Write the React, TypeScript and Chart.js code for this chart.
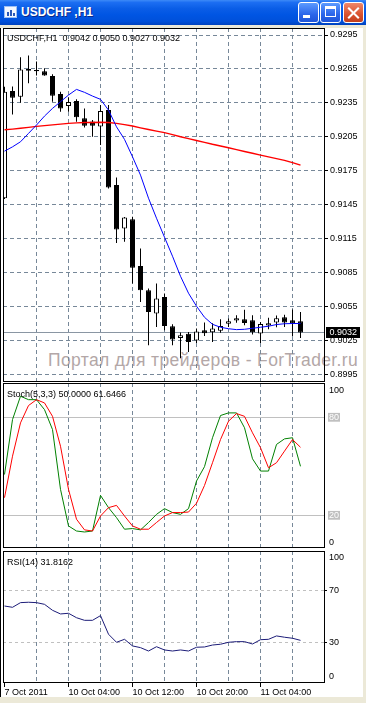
import React, { useEffect, useRef } from "react";
import { Chart, registerables } from "chart.js";

Chart.register(...registerables);

const FONT = '"Liberation Sans", Arial, sans-serif';
const GRID = "#778899";
const DASH = [4, 3];

// ---- data ----
const opens = [0.91507, 0.92454, 0.92404, 0.92649, 0.9264, 0.92629, 0.92587, 0.92428, 0.92322, 0.92366, 0.92213, 0.92186, 0.92142, 0.92286, 0.91623, 0.91239, 0.91322, 0.90908, 0.90693, 0.90487, 0.90634, 0.90375, 0.90271, 0.90308, 0.90248, 0.90339, 0.90322, 0.90335, 0.90397, 0.90425, 0.90437, 0.90428, 0.9031, 0.90381, 0.90407, 0.90454, 0.90428, 0.9042];
const highs = [0.92492, 0.92494, 0.92753, 0.92769, 0.92715, 0.92655, 0.92602, 0.92448, 0.92399, 0.92381, 0.92301, 0.92198, 0.92331, 0.92331, 0.91691, 0.9134, 0.91342, 0.91062, 0.90708, 0.90753, 0.90664, 0.90393, 0.90319, 0.90324, 0.90354, 0.90408, 0.90401, 0.90437, 0.90444, 0.90472, 0.90521, 0.90472, 0.90413, 0.9045, 0.90469, 0.90476, 0.90523, 0.905];
const lows = [0.915, 0.92248, 0.92351, 0.92523, 0.92592, 0.92589, 0.9236, 0.92271, 0.92271, 0.92183, 0.92133, 0.9205, 0.91977, 0.91592, 0.91112, 0.91121, 0.90753, 0.9059, 0.90207, 0.90368, 0.90339, 0.90207, 0.90092, 0.90147, 0.90227, 0.90288, 0.90236, 0.90317, 0.90368, 0.90406, 0.90383, 0.90301, 0.90227, 0.90348, 0.90366, 0.90368, 0.90288, 0.9027];
const closes = [0.92448, 0.92395, 0.92646, 0.92634, 0.9263, 0.92593, 0.92413, 0.92301, 0.92357, 0.92222, 0.92147, 0.92147, 0.92277, 0.91602, 0.9123, 0.91337, 0.90891, 0.90693, 0.90501, 0.9062, 0.90377, 0.90257, 0.90295, 0.90236, 0.90328, 0.90313, 0.90354, 0.90376, 0.90419, 0.90445, 0.90404, 0.90322, 0.90395, 0.90401, 0.90445, 0.90407, 0.90399, 0.9032];
const maFast = [0.91923, 0.91961, 0.92006, 0.9208, 0.92154, 0.92233, 0.92301, 0.9236, 0.92419, 0.92469, 0.92443, 0.9241, 0.92381, 0.92286, 0.92138, 0.92027, 0.91873, 0.91711, 0.91507, 0.9133, 0.91162, 0.90994, 0.90817, 0.90667, 0.90552, 0.90454, 0.90392, 0.90366, 0.90353, 0.90345, 0.90348, 0.90357, 0.90366, 0.90375, 0.9039, 0.90397, 0.90399, 0.90399];
const maSlow = [0.92112, 0.92118, 0.92125, 0.92133, 0.92142, 0.92149, 0.92155, 0.92162, 0.92169, 0.92173, 0.92176, 0.92177, 0.92178, 0.92176, 0.92169, 0.92158, 0.92145, 0.92129, 0.92114, 0.921, 0.92087, 0.92069, 0.9205, 0.92034, 0.92017, 0.92001, 0.91984, 0.91969, 0.91953, 0.91937, 0.9192, 0.91904, 0.91888, 0.91872, 0.91857, 0.91841, 0.91822, 0.918];
const stochMain = [45, 78.6, 92.9, 90.8, 90.8, 84.7, 72.5, 35.9, 13.5, 10.4, 9.8, 10.4, 32.2, 24.7, 18.6, 11.5, 11.9, 11.1, 15.6, 20.6, 24.1, 21.7, 20.6, 24.1, 41, 49.8, 67.5, 81.1, 82.7, 82.7, 73.6, 54.6, 47.1, 47.1, 63.4, 66.8, 67.5, 50];
const stochSignal = [30.8, 56.2, 76.6, 87.2, 90.8, 88.8, 80.6, 62.3, 35.9, 17.6, 11.1, 10.4, 19.6, 24.7, 26.1, 19.6, 13.5, 11.5, 11.5, 15.6, 19.6, 21.7, 21.7, 22, 27.4, 38.3, 52.2, 66.4, 77.6, 82.3, 80.6, 70.5, 61.4, 49.1, 52.2, 59.3, 66.4, 61.65];
const rsi = [58.2, 57.2, 60.8, 61.1, 60.8, 59.5, 54.9, 52.1, 52.6, 49.2, 47.2, 47.2, 50.8, 36.5, 30.3, 32.6, 27.5, 26.2, 23.6, 26.9, 24.4, 23.6, 24.4, 23.6, 26.5, 26.7, 28.2, 28.8, 30.3, 30.8, 30.8, 29, 32.3, 32.6, 35.2, 34.2, 33.4, 31.8];

const priceTicks = [0.9295, 0.9265, 0.9235, 0.9205, 0.9175, 0.9145, 0.9115, 0.9085, 0.9055, 0.9025, 0.8995];
const stochLevels = [100, 80, 20, 0];
const rsiLevels = [100, 70, 30, 0];
const timeLabels = ["7 Oct 2011", "10 Oct 04:00", "10 Oct 12:00", "10 Oct 20:00", "11 Oct 04:00"];
const timeLabelBars = [0, 8, 16, 24, 32];
const gridBars = [0, 4, 8, 12, 16, 20, 24, 28, 32, 36];
const lastPrice = 0.9032;

// axis ranges
const xMin = -0.1875;
const xMax = 40.0625;
const priceMin = 0.898819;
const priceMax = 0.930119;

const idx = opens.map((_, i) => i);

const framePlugin = {
  id: "frame",
  afterDraw(chart: any) {
    const { ctx, chartArea: a } = chart;
    ctx.save();
    ctx.strokeStyle = "#000";
    ctx.lineWidth = 1;
    ctx.setLineDash([]);
    const l = Math.round(a.left), t = Math.round(a.top), r = Math.round(a.right), b = Math.round(a.bottom);
    ctx.strokeRect(l + 0.5, t + 0.5, r - l - 1, b - t - 1);
    ctx.restore();
  },
};

const pricePlugin = {
  id: "lastPrice",
  beforeDatasetsDraw(chart: any) {
    const { ctx, chartArea: a } = chart;
    const y = Math.round(chart.scales.y.getPixelForValue(lastPrice)) + 0.5;
    ctx.save();
    ctx.strokeStyle = "#8A96A3";
    ctx.lineWidth = 1;
    ctx.beginPath();
    ctx.moveTo(a.left, y);
    ctx.lineTo(a.right, y);
    ctx.stroke();
    ctx.restore();
  },
  afterDraw(chart: any) {
    const { ctx, chartArea: a } = chart;
    const y = Math.round(chart.scales.y.getPixelForValue(lastPrice));
    ctx.save();
    ctx.fillStyle = "#000";
    ctx.fillRect(Math.round(a.right) + 1, y - 5, 34, 11);
    ctx.fillStyle = "#fff";
    ctx.font = `9px ${FONT}`;
    ctx.textBaseline = "middle";
    ctx.textAlign = "left";
    ctx.fillText(lastPrice.toFixed(4), Math.round(a.right) + 4.5, y + 0.5);
    ctx.restore();
  },
};

function xScale(showLabels: boolean) {
  return {
    type: "linear",
    min: xMin,
    max: xMax,
    bounds: "data",
    offset: false,
    afterBuildTicks: (s: any) => {
      s.ticks = gridBars.map((v) => ({ value: v }));
    },
    afterFit: (s: any) => {
      s.height = showLabels ? 14 : 0;
      s.paddingLeft = 0;
      s.paddingRight = 0;
    },
    grid: {
      offset: false,
      color: (c: any) => (c.tick && c.tick.value === 0 ? "rgba(0,0,0,0)" : GRID),
      lineWidth: 1,
      drawTicks: showLabels,
      tickLength: 4,
      tickWidth: 1,
      tickColor: (c: any) => (c.tick && timeLabelBars.includes(c.tick.value) ? "#000" : "rgba(0,0,0,0)"),
      tickBorderDash: [],
    },
    border: { display: false, dash: DASH },
    ticks: {
      display: showLabels,
      autoSkip: false,
      maxRotation: 0,
      minRotation: 0,
      align: "start",
      padding: 0,
      color: "#000",
      font: { family: FONT, size: 9 },
      callback: (v: any) => {
        const i = timeLabelBars.indexOf(Number(v));
        return i >= 0 ? timeLabels[i] : "";
      },
    },
  };
}

const baseOptions = {
  responsive: false,
  maintainAspectRatio: false,
  animation: false,
  devicePixelRatio: 1,
  events: [],
  layout: { padding: { left: 3, right: 0, top: 0, bottom: 0 } },
  plugins: { legend: { display: false }, tooltip: { enabled: false }, title: { display: false } },
};

function mainConfig(): any {
  const bull = idx.map((i) => closes[i] >= opens[i]);
  return {
    type: "bar",
    data: {
      datasets: [
        {
          type: "line",
          label: "MA fast",
          data: idx.map((i) => ({ x: i, y: maFast[i] })),
          borderColor: "#0000FF",
          borderWidth: 1,
          pointRadius: 0,
          tension: 0,
          order: 1,
        },
        {
          type: "line",
          label: "MA slow",
          data: idx.map((i) => ({ x: i, y: maSlow[i] })),
          borderColor: "#FF0000",
          borderWidth: 1.4,
          pointRadius: 0,
          tension: 0,
          order: 2,
        },
        {
          type: "bar",
          label: "body",
          data: idx.map((i) => ({ x: i, y: [opens[i], closes[i]] })),
          backgroundColor: idx.map((i) => (bull[i] ? "#FFFFFF" : "#000000")),
          borderColor: "#000000",
          borderWidth: 1,
          borderSkipped: false,
          barThickness: 5,
          minBarLength: 1,
          inflateAmount: 0,
          grouped: false,
          order: 3,
        },
        {
          type: "bar",
          label: "wick",
          data: idx.map((i) => ({ x: i, y: [lows[i], highs[i]] })),
          backgroundColor: "#000000",
          borderWidth: 0,
          barThickness: 1,
          inflateAmount: 0,
          grouped: false,
          order: 4,
        },
      ],
    },
    options: {
      ...baseOptions,
      scales: {
        x: xScale(false),
        y: {
          type: "linear",
          position: "right",
          min: priceMin,
          max: priceMax,
          bounds: "data",
          beginAtZero: false,
          afterBuildTicks: (s: any) => {
            s.ticks = priceTicks.map((v) => ({ value: v }));
          },
          afterFit: (s: any) => {
            s.width = 41;
            s.paddingTop = 0;
            s.paddingBottom = 0;
          },
          grid: { color: GRID, lineWidth: 1, drawTicks: true, tickLength: 3, tickWidth: 1, tickColor: "#000", tickBorderDash: [] },
          border: { display: false, dash: DASH },
          ticks: {
            padding: 2,
            color: "#000",
            autoSkip: false,
            font: { family: FONT, size: 9 },
            callback: (v: any) => Number(v).toFixed(4),
          },
        },
      },
    },
    plugins: [pricePlugin, framePlugin],
  };
}

function stochConfig(): any {
  return {
    type: "line",
    data: {
      datasets: [
        {
          label: "Signal",
          data: idx.map((i) => ({ x: i, y: stochSignal[i] })),
          borderColor: "#FF0000",
          borderWidth: 1,
          pointRadius: 0,
          tension: 0,
          order: 1,
        },
        {
          label: "Main",
          data: idx.map((i) => ({ x: i, y: stochMain[i] })),
          borderColor: "#008000",
          borderWidth: 1,
          pointRadius: 0,
          tension: 0,
          order: 2,
        },
      ],
    },
    options: {
      ...baseOptions,
      scales: {
        x: xScale(false),
        y: {
          type: "linear",
          position: "right",
          min: 0,
          max: 101,
          bounds: "data",
          afterBuildTicks: (s: any) => {
            s.ticks = stochLevels.map((v) => ({ value: v }));
          },
          afterFit: (s: any) => {
            s.width = 41;
            s.paddingTop = 0;
            s.paddingBottom = 0;
          },
          grid: {
            color: (c: any) => (c.tick && (c.tick.value === 80 || c.tick.value === 20) ? "#C0C0C0" : "rgba(0,0,0,0)"),
            lineWidth: 1,
            drawTicks: true,
            tickLength: 2,
            tickColor: "rgba(0,0,0,0)",
            tickBorderDash: [],
          },
          border: { display: false, dash: [] },
          ticks: {
            padding: 2,
            autoSkip: false,
            font: { family: FONT, size: 9 },
            color: (c: any) => (c.tick && (c.tick.value === 80 || c.tick.value === 20) ? "#FFFFFF" : "#000000"),
            showLabelBackdrop: (c: any) => !!(c.tick && (c.tick.value === 80 || c.tick.value === 20)),
            backdropColor: "#C0C0C0",
            backdropPadding: { left: 1, right: 1, top: -1, bottom: -1 },
            callback: (v: any) => {
              const n = Number(v);
              if (n === 100) return ["", "100"];
              if (n === 0) return ["0", ""];
              return String(n);
            },
          },
        },
      },
    },
    plugins: [framePlugin],
  };
}

function rsiConfig(): any {
  return {
    type: "line",
    data: {
      datasets: [
        {
          label: "RSI",
          data: idx.map((i) => ({ x: i, y: rsi[i] })),
          borderColor: "#1C1C78",
          borderWidth: 1,
          pointRadius: 0,
          tension: 0,
        },
      ],
    },
    options: {
      ...baseOptions,
      scales: {
        x: xScale(true),
        y: {
          type: "linear",
          position: "right",
          min: -1,
          max: 100.5,
          bounds: "data",
          afterBuildTicks: (s: any) => {
            s.ticks = rsiLevels.map((v) => ({ value: v }));
          },
          afterFit: (s: any) => {
            s.width = 41;
            s.paddingTop = 0;
            s.paddingBottom = 0;
          },
          grid: {
            color: (c: any) => (c.tick && (c.tick.value === 70 || c.tick.value === 30) ? "#C0C0C0" : "rgba(0,0,0,0)"),
            lineWidth: 1,
            drawTicks: true,
            tickLength: 2,
            tickColor: (c: any) => (c.tick && (c.tick.value === 70 || c.tick.value === 30) ? "#000" : "rgba(0,0,0,0)"),
            tickBorderDash: [],
          },
          border: { display: false, dash: [3, 3] },
          ticks: {
            padding: 2,
            autoSkip: false,
            color: "#000",
            font: { family: FONT, size: 9 },
            callback: (v: any) => {
              const n = Number(v);
              if (n === 100) return ["", "100"];
              if (n === 0) return ["0", ""];
              return String(n);
            },
          },
        },
      },
    },
    plugins: [framePlugin],
  };
}

const textStyle: React.CSSProperties = {
  position: "absolute",
  fontFamily: FONT,
  fontSize: 9,
  lineHeight: "9px",
  whiteSpace: "pre",
  color: "#000",
};

const btnBase: React.CSSProperties = {
  position: "absolute",
  top: 2,
  width: 21,
  height: 21,
  boxSizing: "border-box",
  border: "1px solid #FFFFFF",
  borderRadius: 3,
};

export default function App() {
  const mainRef = useRef<HTMLCanvasElement>(null);
  const stochRef = useRef<HTMLCanvasElement>(null);
  const rsiRef = useRef<HTMLCanvasElement>(null);

  useEffect(() => {
    document.body.style.margin = "0";
    const charts = [
      new Chart(mainRef.current as HTMLCanvasElement, mainConfig()),
      new Chart(stochRef.current as HTMLCanvasElement, stochConfig()),
      new Chart(rsiRef.current as HTMLCanvasElement, rsiConfig()),
    ];
    return () => charts.forEach((c) => c.destroy());
  }, []);

  return (
    <div
      style={{
        position: "fixed",
        left: 0,
        top: 0,
        width: 366,
        height: 703,
        background: "#ECE9D8",
        overflow: "hidden",
        fontFamily: FONT,
      }}
    >
      {/* title bar */}
      <div
        style={{
          position: "absolute",
          left: 0,
          top: 0,
          width: 366,
          height: 25,
          background:
            "linear-gradient(to bottom, #3D8AF7 0%, #1C6EF2 10%, #0A5DE6 35%, #0055E3 60%, #0050DA 85%, #0042BE 100%)",
        }}
      />
      {/* icon */}
      <div style={{ position: "absolute", left: 4, top: 6, width: 13, height: 12, background: "#F4F8FF", border: "1px solid #9EC0F5", boxSizing: "border-box" }}>
        <div style={{ position: "absolute", left: 2, top: 5, width: 2, height: 4, background: "#2A58B8" }} />
        <div style={{ position: "absolute", left: 5, top: 3, width: 2, height: 6, background: "#2A58B8" }} />
        <div style={{ position: "absolute", left: 8, top: 6, width: 2, height: 3, background: "#2A58B8" }} />
      </div>
      <div
        style={{
          position: "absolute",
          left: 21,
          top: 5,
          fontSize: 12,
          lineHeight: "14px",
          fontWeight: "bold",
          color: "#FFFFFF",
          textShadow: "1px 1px #0A2A8A",
          whiteSpace: "pre",
          fontFamily: FONT,
        }}
      >
        USDCHF ,H1
      </div>
      {/* buttons */}
      <div style={{ ...btnBase, left: 298, background: "linear-gradient(to bottom, #5C9BFF, #2B66EA 60%, #1F55D8)" }}>
        <div style={{ position: "absolute", left: 4, top: 12, width: 7, height: 3, background: "#FFFFFF" }} />
      </div>
      <div style={{ ...btnBase, left: 320, background: "linear-gradient(to bottom, #5C9BFF, #2B66EA 60%, #1F55D8)" }}>
        <div style={{ position: "absolute", left: 4, top: 3, width: 11, height: 11, boxSizing: "border-box", borderTop: "3px solid #FFFFFF", borderLeft: "1px solid #FFFFFF", borderRight: "1px solid #FFFFFF", borderBottom: "1px solid #FFFFFF" }} />
      </div>
      <div style={{ ...btnBase, left: 343, background: "linear-gradient(to bottom, #F0876A, #D9522F 60%, #C23F1E)" }}>
        <div style={{ position: "absolute", left: 2, top: 8.5, width: 15, height: 2, background: "#FFFFFF", transform: "rotate(45deg)" }} />
        <div style={{ position: "absolute", left: 2, top: 8.5, width: 15, height: 2, background: "#FFFFFF", transform: "rotate(-45deg)" }} />
      </div>

      {/* client area */}
      <div
        style={{
          position: "absolute",
          left: 0,
          top: 28,
          width: 363,
          height: 669,
          background: "#FFFFFF",
          borderLeft: "1px solid #000000",
          boxSizing: "border-box",
        }}
      />

      {/* watermark */}
      <div
        style={{
          position: "absolute",
          left: 48,
          top: 352,
          fontFamily: FONT,
          fontSize: 17.5,
          lineHeight: "17.5px",
          letterSpacing: "0.37px",
          color: "#B3A7A7",
          whiteSpace: "pre",
        }}
      >
        Портал для трейдеров - ForTrader.ru
      </div>

      <canvas ref={mainRef} width={366} height={354} style={{ position: "absolute", left: 0, top: 28, width: 366, height: 354 }} />
      <canvas ref={stochRef} width={366} height={165} style={{ position: "absolute", left: 0, top: 383, width: 366, height: 165 }} />
      <canvas ref={rsiRef} width={366} height={146} style={{ position: "absolute", left: 0, top: 551, width: 366, height: 146 }} />

      <div style={{ ...textStyle, left: 7, top: 33.5 }}>USDCHF,H1  0.9042 0.9050 0.9027 0.9032</div>
      <div style={{ ...textStyle, left: 7, top: 389.5 }}>Stoch(5,3,3) 50.0000 61.6466</div>
      <div style={{ ...textStyle, left: 7, top: 557.5 }}>RSI(14) 31.8162</div>
    </div>
  );
}
